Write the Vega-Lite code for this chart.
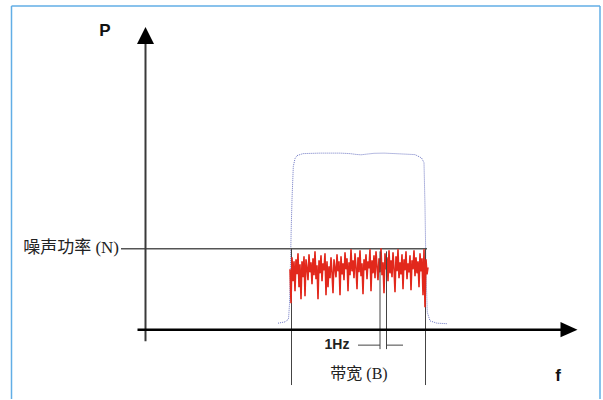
{
  "$schema": "https://vega.github.io/schema/vega-lite/v6.json",
  "width": 603,
  "height": 400,
  "autosize": {"type": "fit", "contains": "padding"},
  "padding": 0,
  "background": "white",
  "view": {"stroke": null},
  "datasets": {
    "frame": [
      {"x": 11.5, "P": 394, "x2": 11.5, "P2": 0},
      {"x": 11.5, "P": 394, "x2": 600, "P2": 394},
      {"x": 600, "P": 394, "x2": 600, "P2": 0}
    ],
    "vaxis": [{"x": 145.5, "P": 356, "x2": 145.5, "P2": 58}],
    "haxis": [{"x": 137.5, "P": 69.5, "x2": 562, "P2": 69.5}],
    "uparrow": [{"x": 145.5, "P": 364.5}],
    "rightarrow": [{"x": 569, "P": 69.5}],
    "noiseLevel": [{"x": 121, "P": 150.7, "x2": 427, "P2": 150.7}],
    "bandLines": [
      {"x": 291.5, "P": 151, "x2": 291.5, "P2": 14},
      {"x": 425.5, "P": 151, "x2": 425.5, "P2": 14}
    ],
    "hzLines": [
      {"x": 380, "P": 148, "x2": 380, "P2": 50},
      {"x": 386.5, "P": 148, "x2": 386.5, "P2": 50},
      {"x": 358, "P": 54, "x2": 380, "P2": 54},
      {"x": 386.5, "P": 54, "x2": 403, "P2": 54}
    ],
    "filter": [
      {"x": 278, "P": 76}, {"x": 285, "P": 77.3}, {"x": 288.5, "P": 80}, {"x": 289.5, "P": 95},
      {"x": 290.3, "P": 127}, {"x": 291.2, "P": 170}, {"x": 292, "P": 200}, {"x": 293.3, "P": 233},
      {"x": 295, "P": 241}, {"x": 297, "P": 244}, {"x": 303, "P": 246}, {"x": 320, "P": 246.5},
      {"x": 340, "P": 246.5}, {"x": 350, "P": 246}, {"x": 356, "P": 245.2}, {"x": 361, "P": 244.8},
      {"x": 366, "P": 245.4}, {"x": 374, "P": 246.3}, {"x": 384, "P": 246.5}, {"x": 395, "P": 246},
      {"x": 405, "P": 245.5}, {"x": 415, "P": 245},
      {"x": 421.5, "P": 241.7}, {"x": 424, "P": 237}, {"x": 425, "P": 193}, {"x": 426, "P": 127},
      {"x": 427.3, "P": 87}, {"x": 430, "P": 78.3}, {"x": 437, "P": 76}, {"x": 447, "P": 75.5}
    ],
    "noise": [
      {"x": 290, "P": 130}, {"x": 291, "P": 96}, {"x": 292, "P": 142}, {"x": 293, "P": 118}, {"x": 294, "P": 138},
      {"x": 295, "P": 108}, {"x": 296, "P": 140}, {"x": 297, "P": 125}, {"x": 298, "P": 146}, {"x": 299, "P": 112},
      {"x": 300, "P": 135}, {"x": 301, "P": 100}, {"x": 302, "P": 138}, {"x": 303, "P": 122}, {"x": 304, "P": 143},
      {"x": 305, "P": 103}, {"x": 306, "P": 140}, {"x": 307, "P": 131}, {"x": 308, "P": 119}, {"x": 309, "P": 145},
      {"x": 310, "P": 127}, {"x": 311, "P": 137}, {"x": 312, "P": 115}, {"x": 313, "P": 141}, {"x": 314, "P": 124},
      {"x": 315, "P": 148}, {"x": 316, "P": 120}, {"x": 317, "P": 134}, {"x": 318, "P": 100}, {"x": 319, "P": 139},
      {"x": 320, "P": 126}, {"x": 321, "P": 144}, {"x": 322, "P": 118}, {"x": 323, "P": 136}, {"x": 324, "P": 129},
      {"x": 325, "P": 146}, {"x": 326, "P": 104}, {"x": 327, "P": 138}, {"x": 328, "P": 112}, {"x": 329, "P": 133},
      {"x": 330, "P": 121}, {"x": 331, "P": 142}, {"x": 332, "P": 127}, {"x": 333, "P": 106}, {"x": 334, "P": 140},
      {"x": 335, "P": 131}, {"x": 336, "P": 122}, {"x": 337, "P": 145}, {"x": 338, "P": 128}, {"x": 339, "P": 138},
      {"x": 340, "P": 104}, {"x": 341, "P": 143}, {"x": 342, "P": 125}, {"x": 343, "P": 136}, {"x": 344, "P": 119},
      {"x": 345, "P": 147}, {"x": 346, "P": 130}, {"x": 347, "P": 141}, {"x": 348, "P": 108}, {"x": 349, "P": 137},
      {"x": 350, "P": 124}, {"x": 351, "P": 150}, {"x": 352, "P": 128}, {"x": 353, "P": 139}, {"x": 354, "P": 121},
      {"x": 355, "P": 146}, {"x": 356, "P": 132}, {"x": 357, "P": 110}, {"x": 358, "P": 142}, {"x": 359, "P": 127},
      {"x": 360, "P": 149}, {"x": 361, "P": 123}, {"x": 362, "P": 136}, {"x": 363, "P": 105}, {"x": 364, "P": 140},
      {"x": 365, "P": 129}, {"x": 366, "P": 145}, {"x": 367, "P": 120}, {"x": 368, "P": 138}, {"x": 369, "P": 131},
      {"x": 370, "P": 150}, {"x": 371, "P": 108}, {"x": 372, "P": 139}, {"x": 373, "P": 126}, {"x": 374, "P": 144},
      {"x": 375, "P": 121}, {"x": 376, "P": 148}, {"x": 377, "P": 133}, {"x": 378, "P": 119}, {"x": 379, "P": 141},
      {"x": 380, "P": 127}, {"x": 381, "P": 151}, {"x": 382, "P": 124}, {"x": 383, "P": 137}, {"x": 384, "P": 106},
      {"x": 385, "P": 146}, {"x": 386, "P": 130}, {"x": 387, "P": 142}, {"x": 388, "P": 118}, {"x": 389, "P": 149},
      {"x": 390, "P": 126}, {"x": 391, "P": 139}, {"x": 392, "P": 122}, {"x": 393, "P": 147}, {"x": 394, "P": 131},
      {"x": 395, "P": 107}, {"x": 396, "P": 143}, {"x": 397, "P": 128}, {"x": 398, "P": 150}, {"x": 399, "P": 121},
      {"x": 400, "P": 137}, {"x": 401, "P": 125}, {"x": 402, "P": 145}, {"x": 403, "P": 110}, {"x": 404, "P": 140},
      {"x": 405, "P": 129}, {"x": 406, "P": 148}, {"x": 407, "P": 120}, {"x": 408, "P": 136}, {"x": 409, "P": 127},
      {"x": 410, "P": 144}, {"x": 411, "P": 109}, {"x": 412, "P": 139}, {"x": 413, "P": 130}, {"x": 414, "P": 149},
      {"x": 415, "P": 123}, {"x": 416, "P": 142}, {"x": 417, "P": 126}, {"x": 418, "P": 138}, {"x": 419, "P": 112},
      {"x": 420, "P": 146}, {"x": 421, "P": 128}, {"x": 422, "P": 141}, {"x": 423, "P": 104}, {"x": 424, "P": 150},
      {"x": 425, "P": 92}, {"x": 426, "P": 140}, {"x": 427, "P": 125}, {"x": 428, "P": 132}
    ],
    "boldLabels": [
      {"x": 105, "P": 369, "label": "P"},
      {"x": 558, "P": 23, "label": "f"}
    ],
    "hzLabel": [{"x": 337, "P": 54, "label": "1Hz"}],
    "noiseLabel": [{"x": 119, "P": 151.5, "label": "噪声功率 (N)"}],
    "bandLabel": [{"x": 359, "P": 25, "label": "带宽 (B)"}]
  },
  "encoding": {
    "x": {"field": "x", "type": "quantitative", "scale": {"domain": [0, 603], "nice": false, "zero": false}, "axis": null},
    "y": {"field": "P", "type": "quantitative", "scale": {"domain": [0, 400], "nice": false, "zero": false}, "axis": null}
  },
  "layer": [
    {"data": {"name": "frame"}, "mark": {"type": "rule", "color": "#62aee6", "strokeWidth": 1.5},
     "encoding": {"x2": {"field": "x2"}, "y2": {"field": "P2"}}},
    {"data": {"name": "filter"}, "mark": {"type": "line", "color": "#6f78c4", "strokeWidth": 1, "strokeDash": [1, 1]},
     "encoding": {}},
    {"data": {"name": "noiseLevel"}, "mark": {"type": "rule", "color": "#555555", "strokeWidth": 1.4},
     "encoding": {"x2": {"field": "x2"}, "y2": {"field": "P2"}}},
    {"data": {"name": "bandLines"}, "mark": {"type": "rule", "color": "#444444", "strokeWidth": 1},
     "encoding": {"x2": {"field": "x2"}, "y2": {"field": "P2"}}},
    {"data": {"name": "noise"}, "mark": {"type": "line", "color": "#e2281c", "strokeWidth": 1.6},
     "encoding": {}},
    {"data": {"name": "hzLines"}, "mark": {"type": "rule", "color": "#444444", "strokeWidth": 1},
     "encoding": {"x2": {"field": "x2"}, "y2": {"field": "P2"}}},
    {"data": {"name": "vaxis"}, "mark": {"type": "rule", "color": "#3a3a3a", "strokeWidth": 2},
     "encoding": {"x2": {"field": "x2"}, "y2": {"field": "P2"}}},
    {"data": {"name": "haxis"}, "mark": {"type": "rule", "color": "#000000", "strokeWidth": 2.5},
     "encoding": {"x2": {"field": "x2"}, "y2": {"field": "P2"}}},
    {"data": {"name": "uparrow"}, "mark": {"type": "point", "shape": "M0,-1L1,1L-1,1Z", "size": 289, "filled": true, "color": "#000000", "opacity": 1, "strokeWidth": 0}},
    {"data": {"name": "rightarrow"}, "mark": {"type": "point", "shape": "M1,0L-1,-0.9L-1,0.9Z", "size": 289, "filled": true, "color": "#000000", "opacity": 1, "strokeWidth": 0}},
    {"data": {"name": "boldLabels"}, "mark": {"type": "text", "font": "Liberation Sans", "fontWeight": "bold", "fontSize": 17, "color": "#111111", "align": "center", "baseline": "middle"},
     "encoding": {"text": {"field": "label"}}},
    {"data": {"name": "hzLabel"}, "mark": {"type": "text", "font": "Liberation Sans", "fontWeight": "bold", "fontSize": 14, "color": "#222222", "align": "center", "baseline": "middle"},
     "encoding": {"text": {"field": "label"}}},
    {"data": {"name": "noiseLabel"}, "mark": {"type": "text", "font": "Liberation Serif, Noto Sans CJK SC", "fontSize": 17, "color": "#222222", "align": "right", "baseline": "middle"},
     "encoding": {"text": {"field": "label"}}},
    {"data": {"name": "bandLabel"}, "mark": {"type": "text", "font": "Liberation Serif, Noto Sans CJK SC", "fontSize": 16, "color": "#222222", "align": "center", "baseline": "middle"},
     "encoding": {"text": {"field": "label"}}}
  ]
}
